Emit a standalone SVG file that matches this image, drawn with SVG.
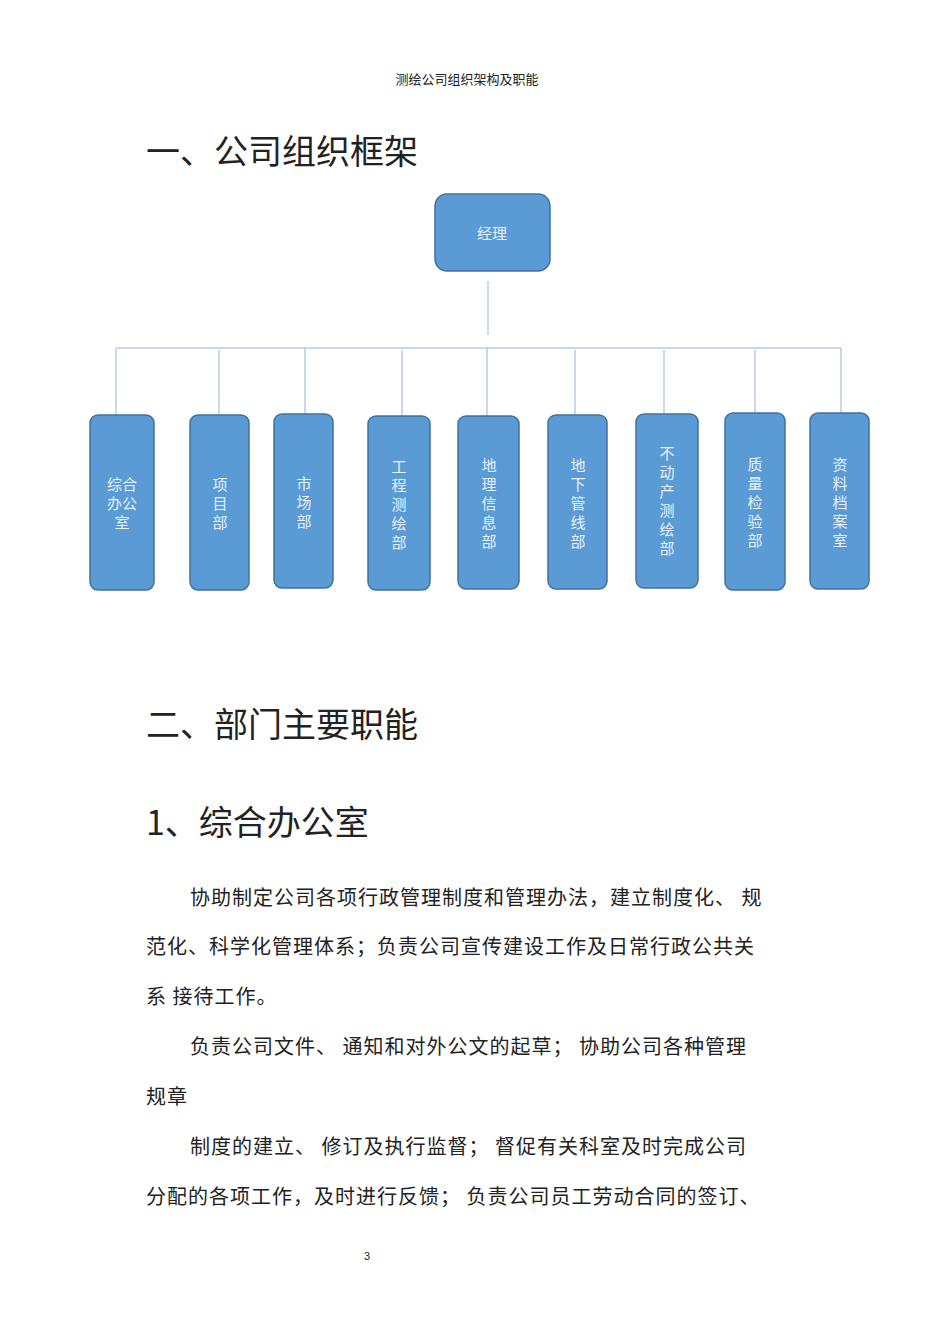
<svg xmlns="http://www.w3.org/2000/svg" width="950" height="1344" viewBox="0 0 950 1344">
<style>
.b{fill:#5b9bd5;stroke:#41719c;stroke-width:1.5}
.bt{font-family:"Noto Sans CJK SC",sans-serif;font-size:15px;fill:#e8f0f8;text-anchor:middle}
.c{stroke:#8fb3d9;stroke-width:1;fill:none}
.h{font-family:"Noto Sans CJK SC",sans-serif;fill:#222}
.p{font-family:"Noto Sans CJK SC",serif;font-size:20px;fill:#222;letter-spacing:1px}
</style>
<rect width="950" height="1344" fill="#fff"/>
<text class="h" x="467" y="84" font-size="13" text-anchor="middle">测绘公司组织架构及职能</text>
<text class="h" x="146" y="164" font-size="34">一、公司组织框架</text>
<g id="connectors">
<path class="c" d="M488 281V335M116 348H841M116 348V415M219 350V415M305 348V414M402 350V416M487 348V416M575 350V415M664 350V414M755 350V413M841 348V413"/>
</g>
<g id="n0"><rect class="b" x="435" y="194" width="115" height="77" rx="12"/><text class="bt" x="492" y="239">经理</text></g>
<g id="n1"><rect class="b" x="90" y="415" width="64" height="175" rx="8"/><text class="bt" x="122" y="490">综合</text><text class="bt" x="122" y="509">办公</text><text class="bt" x="122" y="528">室</text></g>
<g id="n2"><rect class="b" x="190" y="415" width="59" height="175" rx="8"/><text class="bt" x="220" y="490">项</text><text class="bt" x="220" y="509">目</text><text class="bt" x="220" y="528">部</text></g>
<g id="n3"><rect class="b" x="274" y="414" width="59" height="174" rx="8"/><text class="bt" x="304" y="489">市</text><text class="bt" x="304" y="508">场</text><text class="bt" x="304" y="527">部</text></g>
<g id="n4"><rect class="b" x="368" y="416" width="62" height="174" rx="8"/><text class="bt" x="399" y="472">工</text><text class="bt" x="399" y="491">程</text><text class="bt" x="399" y="510">测</text><text class="bt" x="399" y="529">绘</text><text class="bt" x="399" y="548">部</text></g>
<g id="n5"><rect class="b" x="458" y="416" width="61" height="173" rx="8"/><text class="bt" x="489" y="471">地</text><text class="bt" x="489" y="490">理</text><text class="bt" x="489" y="509">信</text><text class="bt" x="489" y="528">息</text><text class="bt" x="489" y="547">部</text></g>
<g id="n6"><rect class="b" x="548" y="415" width="59" height="174" rx="8"/><text class="bt" x="578" y="471">地</text><text class="bt" x="578" y="490">下</text><text class="bt" x="578" y="509">管</text><text class="bt" x="578" y="528">线</text><text class="bt" x="578" y="547">部</text></g>
<g id="n7"><rect class="b" x="636" y="414" width="62" height="174" rx="8"/><text class="bt" x="667" y="459">不</text><text class="bt" x="667" y="478">动</text><text class="bt" x="667" y="497">产</text><text class="bt" x="667" y="516">测</text><text class="bt" x="667" y="535">绘</text><text class="bt" x="667" y="554">部</text></g>
<g id="n8"><rect class="b" x="725" y="413" width="60" height="177" rx="8"/><text class="bt" x="755" y="470">质</text><text class="bt" x="755" y="489">量</text><text class="bt" x="755" y="508">检</text><text class="bt" x="755" y="527">验</text><text class="bt" x="755" y="546">部</text></g>
<g id="n9"><rect class="b" x="810" y="413" width="59" height="176" rx="8"/><text class="bt" x="840" y="470">资</text><text class="bt" x="840" y="489">料</text><text class="bt" x="840" y="508">档</text><text class="bt" x="840" y="527">案</text><text class="bt" x="840" y="546">室</text></g>
<text class="h" x="146" y="737" font-size="34">二、部门主要职能</text>
<text class="h" x="146" y="835" font-size="34">1、综合办公室</text>
<text class="p" x="190" y="905">协助制定公司各项行政管理制度和管理办法，建立制度化、 规</text>
<text class="p" x="146" y="954">范化、科学化管理体系；负责公司宣传建设工作及日常行政公共关</text>
<text class="p" x="146" y="1004">系 接待工作。</text>
<text class="p" x="190" y="1054">负责公司文件、 通知和对外公文的起草；  协助公司各种管理</text>
<text class="p" x="146" y="1104">规章</text>
<text class="p" x="190" y="1154">制度的建立、 修订及执行监督；  督促有关科室及时完成公司</text>
<text class="p" x="146" y="1204">分配的各项工作，及时进行反馈；  负责公司员工劳动合同的签订、</text>
<text x="364" y="1260" font-family="Liberation Sans,sans-serif" font-size="11" fill="#222">3</text>
</svg>
